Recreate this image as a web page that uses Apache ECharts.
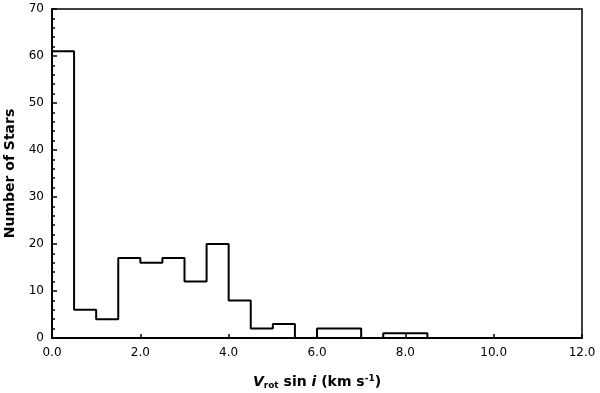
<!DOCTYPE html>
<html>
<head>
<meta charset="utf-8">
<script src="https://cdn.jsdelivr.net/npm/echarts@6/dist/echarts.min.js"></script>
<style>html,body{margin:0;padding:0;background:#fff}#main{width:600px;height:393px}</style>
</head>
<body>
<div id="main"></div>
<script>
var myChart = echarts.init(document.getElementById('main'));
// left edges of the 0.5 km/s bins and the star counts
var binStart = [0, 0.5, 1.0, 1.5, 2.0, 2.5, 3.0, 3.5, 4.0, 4.5, 5.0, 5.5, 6.0, 6.5, 7.0, 7.5, 8.0];
var counts = [61, 6, 4, 17, 16, 17, 12, 20, 8, 2, 3, 0, 2, 2, 0, 1, 1];
var binWidth = 0.5;

var pts = binStart.map(function (x, i) { return [x, counts[i]]; });
pts.push([binStart[binStart.length - 1] + binWidth, 0]);

var font = 'DejaVu Sans';
option = {
    backgroundColor: '#fff',
    animation: false,
    grid: {
        left: 52, right: 18, top: 9, bottom: 55,
        outerBoundsMode: 'none', containLabel: false,
        show: true, borderColor: '#000', borderWidth: 1.5
    },
    xAxis: {
        type: 'value', min: 0, max: 12, interval: 2,
        axisLine: { onZero: false, lineStyle: { color: '#000', width: 2 } },
        axisTick: { inside: true, length: 4, lineStyle: { color: '#000', width: 1.5 } },
        axisLabel: { color: '#000', fontFamily: font, fontSize: 12, margin: 9,
            formatter: function (v) { return v.toFixed(1); } },
        splitLine: { show: false },
        name: '{v|V}{sub|rot}{n| sin }{i|i}{n| (km s}{sup|-1}{n|)}',
        nameLocation: 'middle', nameGap: 36,
        nameTextStyle: {
            rich: {
                v: { fontFamily: font, fontSize: 14, fontWeight: 'bold', fontStyle: 'italic', color: '#000' },
                i: { fontFamily: font, fontSize: 14, fontWeight: 'bold', fontStyle: 'italic', color: '#000' },
                n: { fontFamily: font, fontSize: 14, fontWeight: 'bold', color: '#000' },
                sub: { fontFamily: font, fontSize: 9, fontWeight: 'bold', color: '#000', padding: [6, 0, 0, 0] },
                sup: { fontFamily: font, fontSize: 9, fontWeight: 'bold', color: '#000', padding: [0, 0, 8, 0] }
            }
        }
    },
    yAxis: {
        type: 'value', min: 0, max: 70, interval: 10,
        axisLine: { show: true, lineStyle: { color: '#000', width: 2 } },
        axisTick: { inside: true, length: 5, lineStyle: { color: '#000', width: 1.5 } },
        minorTick: { show: true, splitNumber: 5, length: 3, lineStyle: { color: '#000', width: 1.5 } },
        axisLabel: { color: '#000', fontFamily: font, fontSize: 12, margin: 8 },
        splitLine: { show: false },
        name: 'Number of Stars',
        nameLocation: 'middle', nameGap: 35,
        nameTextStyle: { fontFamily: font, fontSize: 14, fontWeight: 'bold', color: '#000' }
    },
    series: [{
        type: 'line',
        step: 'end',
        data: pts,
        symbol: 'none',
        lineStyle: { color: '#000', width: 2 }
    }]
};
myChart.setOption(option);
</script>
</body>
</html>
